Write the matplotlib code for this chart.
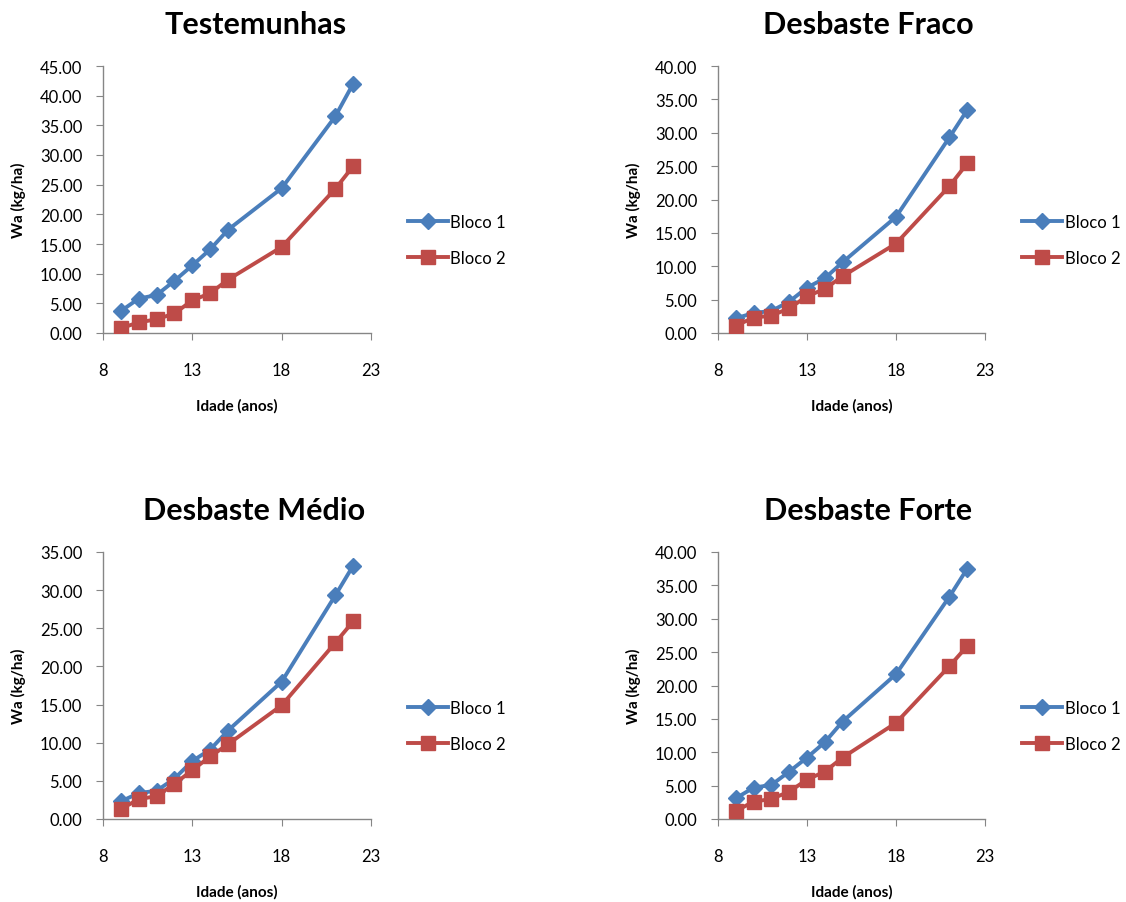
import numpy as np
import matplotlib
matplotlib.use("Agg")
import matplotlib.pyplot as plt

# =========================================================
# DONNÉES
# =========================================================
idade = [9, 10, 11, 12, 13, 14, 15, 18, 21, 22]

testemunhas_b1 = [3.7, 5.8, 6.4, 8.8, 11.4, 14.1, 17.4, 24.4, 36.5, 42.0]
testemunhas_b2 = [0.8, 1.8, 2.3, 3.3, 5.5, 6.7, 9.0, 14.5, 24.3, 28.1]

fraco_b1 = [2.2, 3.0, 3.3, 4.7, 6.8, 8.2, 10.6, 17.4, 29.3, 33.4]
fraco_b2 = [1.1, 2.3, 2.6, 3.7, 5.5, 6.6, 8.5, 13.4, 22.0, 25.4]

medio_b1 = [2.3, 3.4, 3.7, 5.3, 7.6, 9.1, 11.6, 18.0, 29.3, 33.2]
medio_b2 = [1.3, 2.6, 3.0, 4.6, 6.4, 8.2, 9.8, 14.9, 23.1, 25.9]

forte_b1 = [3.1, 4.7, 5.1, 7.1, 9.2, 11.5, 14.6, 21.7, 33.3, 37.5]
forte_b2 = [1.2, 2.6, 3.0, 4.1, 5.9, 7.1, 9.2, 14.4, 22.9, 25.9]

titles = ["Testemunhas", "Desbaste Fraco", "Desbaste Médio", "Desbaste Forte"]
series = [(testemunhas_b1, testemunhas_b2), (fraco_b1, fraco_b2),
          (medio_b1, medio_b2), (forte_b1, forte_b2)]
ymax = [45, 40, 35, 40]

# =========================================================
# FIGURE
# =========================================================
W, H = 1126, 903
fig = plt.figure(figsize=(W / 100, H / 100), dpi=100)
plt.rcParams["font.family"] = ["Lato", "DejaVu Sans"]

BLUE = "#4A7EBB"
RED = "#BE4B48"
GRAY = "#868686"

# position des axes en pixels : (gauche, haut, droite, bas)
boxes = [(103, 67, 371, 334), (718, 67, 985, 334),
         (103, 553, 371, 820), (718, 553, 985, 820)]
title_x = [256, 868, 254, 868]

for i, (l, t, r, b) in enumerate(boxes):
    ax = fig.add_axes([l / W, 1 - b / H, (r - l) / W, (b - t) / H])
    b1, b2 = series[i]
    ax.plot(idade, b1, color=BLUE, lw=2.8, marker="D", ms=8,
            label="Bloco 1", zorder=3)
    ax.plot(idade, b2, color=RED, lw=2.8, marker="s", ms=10,
            label="Bloco 2", zorder=3)

    ax.set_xlim(8, 23)
    ax.set_xticks([8, 13, 18, 23])
    ax.set_ylim(0, ymax[i])
    ax.set_yticks(np.arange(0, ymax[i] + 0.1, 5))
    ax.set_yticklabels([f"{v:.2f}" for v in np.arange(0, ymax[i] + 0.1, 5)])

    for s in ["top", "right"]:
        ax.spines[s].set_visible(False)
    for s in ["left", "bottom"]:
        ax.spines[s].set_color(GRAY)
        ax.spines[s].set_linewidth(1)
    ax.tick_params(axis="both", direction="out", length=5, color=GRAY,
                   labelsize=12, labelcolor="black")
    ax.tick_params(axis="x", pad=16)
    ax.tick_params(axis="y", pad=10)
    ax.set_ylabel("Wa (kg/ha)", fontsize=11, fontweight="bold", labelpad=10)
    ax.set_xlabel("Idade (anos)", fontsize=11, fontweight="bold", labelpad=14)

    fig.text(title_x[i] / W, 1 - (t - 42) / H, titles[i], fontsize=22,
             fontweight="bold", ha="center", va="center")

    ax.legend(loc="center left", bbox_to_anchor=(1 + 37 / (r - l), 0.35),
              frameon=False, fontsize=12, handlelength=2.4, labelspacing=1.2,
              handletextpad=0.15, borderpad=0, borderaxespad=0)

fig.savefig("out.png", dpi=100)
